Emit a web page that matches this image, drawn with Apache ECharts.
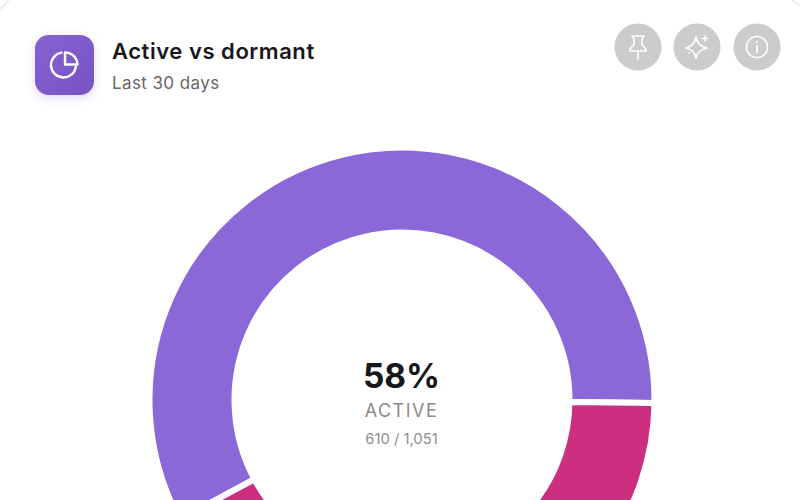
<!doctype html>
<html lang="en">
<head>
<meta charset="UTF-8">
<title>Active vs dormant</title>
<script src="https://cdn.jsdelivr.net/npm/echarts@6/dist/echarts.min.js"></script>
<style>
html, body { margin: 0; padding: 0; width: 100%; height: 100%; background: #fff; }
#main { width: 800px; height: 500px; }
/* tracking on the header and the ACTIVE label, zrender has no option for it */
#main text[style*="22px"] { letter-spacing: 0.55px; }
#main text[style*="17px"] { letter-spacing: 0.4px; }
#main text[style*="18px"] { letter-spacing: 1.5px; }
</style>
</head>
<body>
<div id="main"></div>
<script>
var categories = ['Active', 'Dormant'];
var values = [610, 441];
var colors = ['#8b68d8', '#cc2f80'];
var titleText = 'Active vs dormant';
var subtitleText = 'Last 30 days';
var centerValue = '58%';
var centerLabel = 'ACTIVE';
var centerSub = '610 / 1,051';

var font = 'Inter, "Noto Sans", sans-serif';
var myChart = echarts.init(document.getElementById('main'), null, { renderer: 'svg' });

// small svg icons, the graphic component has no plain path type
function regIcon(name, d) {
	echarts.graphic.registerShape(name, echarts.graphic.extendPath(d, {}));
}
regIcon('sliceIcon', 'M65 52.5 A12.5 12.5 0 0 1 77.5 64.5 H65 Z');
regIcon('pinIcon', 'M632 36 H644 L642 39 V44.5 L646 49 V51 H630 V49 L634 44.5 V39 Z M638 51 V59');
regIcon('sparkIcon', 'M696 37 Q697.5 46 707 48 Q697.5 50 696 58 Q694.5 50 686 48 Q694.5 46 696 37 Z M705 36 V41 M702.5 38.5 H707.5 M689 53 h0.5');
regIcon('infoIcon', 'M757 46 V52.5 M757 41.8 V42.2');

function circleBtn(cx) {
	return { type: 'circle', silent: true, shape: { cx: cx, cy: 47, r: 23.5 }, style: { fill: '#cccccc' } };
}
function iconStroke(type, w) {
	return { type: type, silent: true, shape: {}, style: { fill: null, stroke: '#fff', lineWidth: w, lineJoin: 'round', lineCap: 'round' } };
}

var option = {
	animation: false,
	backgroundColor: '#ffffff',
	series: [{
		type: 'pie',
		center: [402, 400],
		radius: [167.5, 252.5],
		// gap on the right sits just under the horizontal
		startAngle: values[0] / (values[0] + values[1]) * 360 - 0.7,
		label: { show: false },
		labelLine: { show: false },
		silent: true,
		itemStyle: { borderColor: '#fff', borderWidth: 6 },
		data: categories.map(function (c, i) {
			return { name: c, value: values[i], itemStyle: { color: colors[i] } };
		})
	}],
	graphic: [
		{ type: 'line', silent: true, shape: { x1: 0, y1: 9, x2: 9, y2: 0 }, style: { stroke: '#eeeeee', lineWidth: 2 } },
		{ type: 'line', silent: true, shape: { x1: 792, y1: 0, x2: 800, y2: 6 }, style: { stroke: '#eeeeee', lineWidth: 2 } },
		{
			type: 'rect', silent: true,
			shape: { x: 35, y: 35, width: 59, height: 60, r: 14 },
			style: {
				fill: new echarts.graphic.LinearGradient(0, 0, 1, 1, [
					{ offset: 0, color: '#8562d3' }, { offset: 1, color: '#7853c2' }
				]),
				shadowBlur: 10, shadowColor: 'rgba(118,80,189,0.22)', shadowOffsetY: 3
			}
		},
		{ type: 'arc', silent: true, shape: { cx: 63.5, cy: 65, r: 12.5, startAngle: 0.15, endAngle: 4.55 }, style: { fill: null, stroke: '#fff', lineWidth: 2.4, lineCap: 'round' } },
		iconStroke('sliceIcon', 2.4),
		{ type: 'text', silent: true, x: 112, y: 51, style: { text: titleText, font: '600 22px ' + font, fill: '#17171c', verticalAlign: 'middle' } },
		{ type: 'text', silent: true, x: 112, y: 83, style: { text: subtitleText, font: '400 17px ' + font, fill: '#666666', verticalAlign: 'middle' } },
		circleBtn(638), circleBtn(697), circleBtn(757),
		iconStroke('pinIcon', 1.6),
		iconStroke('sparkIcon', 1.6),
		{ type: 'circle', silent: true, shape: { cx: 757, cy: 47, r: 10.5 }, style: { fill: null, stroke: '#fff', lineWidth: 1.6 } },
		iconStroke('infoIcon', 1.8),
		{ type: 'text', silent: true, x: 401.5, y: 376, style: { text: centerValue, font: '700 33.5px ' + font, fill: '#17171c', align: 'center', verticalAlign: 'middle' } },
		{ type: 'text', silent: true, x: 401.5, y: 410, style: { text: centerLabel, font: '400 18px ' + font, fill: '#8a8a8a', align: 'center', verticalAlign: 'middle' } },
		{ type: 'text', silent: true, x: 401.5, y: 439, style: { text: centerSub, font: '400 14.8px ' + font, fill: '#8f8f8f', align: 'center', verticalAlign: 'middle' } }
	]
};
myChart.setOption(option);
window.onresize = function () { myChart.resize(); };
</script>
</body>
</html>
